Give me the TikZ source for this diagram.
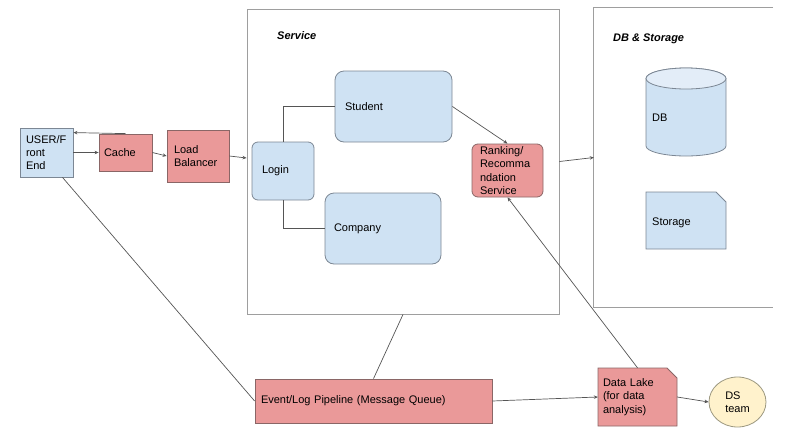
\documentclass[tikz,border=0pt]{standalone}
\usepackage{fontspec}
\setmainfont{Liberation Sans}
\usetikzlibrary{arrows.meta,shapes.geometric}
\definecolor{bluefill}{HTML}{CFE2F3}
\definecolor{bluetop}{HTML}{E3EDF8}
\definecolor{blueline}{HTML}{7C8794}
\definecolor{redfill}{HTML}{EA9999}
\definecolor{redline}{HTML}{8A6666}
\definecolor{yelfill}{HTML}{FFF2CC}
\definecolor{yelline}{HTML}{9C9880}
\definecolor{boxline}{HTML}{9E9E9E}
\definecolor{wire}{HTML}{555555}
\tikzset{
	bluebox/.style={draw=blueline,fill=bluefill,line width=.8pt,inner ysep=0pt,align=left},
	redbox/.style={draw=redline,fill=redfill,line width=.8pt,inner ysep=0pt,align=left},
	wirearr/.style={draw=wire,line width=.7pt,-{Stealth[length=4pt,width=3.5pt]}},
	wireline/.style={draw=wire,line width=.7pt},
	frame/.style={draw=boxline,line width=.9pt}
}
\begin{document}
\begin{tikzpicture}[x=1pt,y=-1pt,every node/.style={font=\fontsize{11pt}{13.3pt}\selectfont}]
	\useasboundingbox (0,0) rectangle (793,445);
	\node[frame,minimum width=312,minimum height=305] (svc) at (403,161.5) {};
	\node[minimum width=179,minimum height=299] (store) at (683.5,157.5) {};
	\draw[frame] (store.north east)--(store.north west)--(store.south west)--(store.south east);
	\node at (277,36) [right,inner sep=0pt,font=\fontsize{11pt}{13pt}\selectfont\bfseries\itshape] (svclabel) {Service};
	\node at (613,39) [right,inner sep=0pt,font=\fontsize{11pt}{13pt}\selectfont\bfseries\itshape] (storelabel) {DB \& Storage};
	\node[bluebox,inner xsep=6pt,text width=41pt,minimum height=49pt] (user) at (46.5,152.5) {USER/F\\ront\\End};
	\node[redbox,inner xsep=5pt,text width=43pt,minimum height=37pt] (cache) at (125.5,152.5) {Cache};
	\node[redbox,inner xsep=7pt,text width=48pt,minimum height=52pt] (lb) at (198,156) {Load\\Balancer};
	\node[bluebox,rounded corners=6pt,inner xsep=10pt,text width=42pt,minimum height=58pt] (login) at (283,171) {Login};
	\node[bluebox,rounded corners=9pt,inner xsep=10pt,text width=97pt,minimum height=71pt] (student) at (393.5,106.5) {Student};
	\node[bluebox,rounded corners=9pt,inner xsep=9pt,text width=98pt,minimum height=71pt] (company) at (383,228.5) {Company};
	\node[redbox,rounded corners=6pt,inner xsep=8pt,text width=55pt,minimum height=53pt] (rank) at (507.5,170.5) {Ranking/\\Recomma\\ndation\\Service};
	\filldraw[draw=blueline,fill=bluefill,line width=.8pt] (646,78.5)--(646,146) arc[start angle=180,end angle=360,x radius=40pt,y radius=10pt]--(726,78.5) arc[start angle=0,end angle=180,x radius=40pt,y radius=10.5pt];
	\filldraw[draw=blueline,fill=bluetop,line width=.8pt] (686,78.5) ellipse [x radius=40pt,y radius=10.5pt];
	\node at (652,118) [right,inner sep=0pt] (db) {DB};
	\filldraw[draw=blueline,fill=bluefill,line width=.8pt] (646,192)--(716,192)--(726,202)--(726,249)--(646,249)--cycle;
	\node at (652,223) [right,inner sep=0pt] (storage) {Storage};
	\node[redbox,inner xsep=6pt,text width=225pt,minimum height=44pt] (event) at (373.5,401) {Event/Log Pipeline (Message Queue)};
	\filldraw[draw=redline,fill=redfill,line width=.8pt] (598,368)--(667,368)--(677,378)--(677,426)--(598,426)--cycle;
	\node[inner xsep=5pt,inner ysep=0pt,text width=69pt,minimum height=58pt,align=left] (lake) at (637.5,397) {Data Lake\\(for data\\analysis)};
	\node[ellipse,draw=yelline,fill=yelfill,line width=.8pt,inner sep=0pt,minimum width=57pt,minimum height=50pt,align=left] (ds) at (737.5,402) {DS\\team};
	\draw[wirearr] (cache.north)--([yshift=-5pt]user.north east);
	\draw[wirearr] (user.east)--(cache.west);
	\draw[wirearr] (cache.east)--(lb.west);
	\draw[wirearr] (lb.east)--([yshift=-2pt]lb.east -| svc.west);
	\draw[wireline] (login.north) |- (student.west);
	\draw[wireline] (login.south) |- (company.west);
	\draw[wirearr] (student.east)--(rank.north);
	\draw[wirearr] (lake.north)--(rank.south);
	\draw[wirearr] (svc.east)--(store.west);
	\draw[wireline] ([xshift=16pt]user.south)--(event.west);
	\draw[wireline] (svc.south)--(event.north);
	\draw[wirearr] (event.east)--(lake.west);
	\draw[wirearr] (lake.east)--(ds.west);
\end{tikzpicture}
\end{document}
